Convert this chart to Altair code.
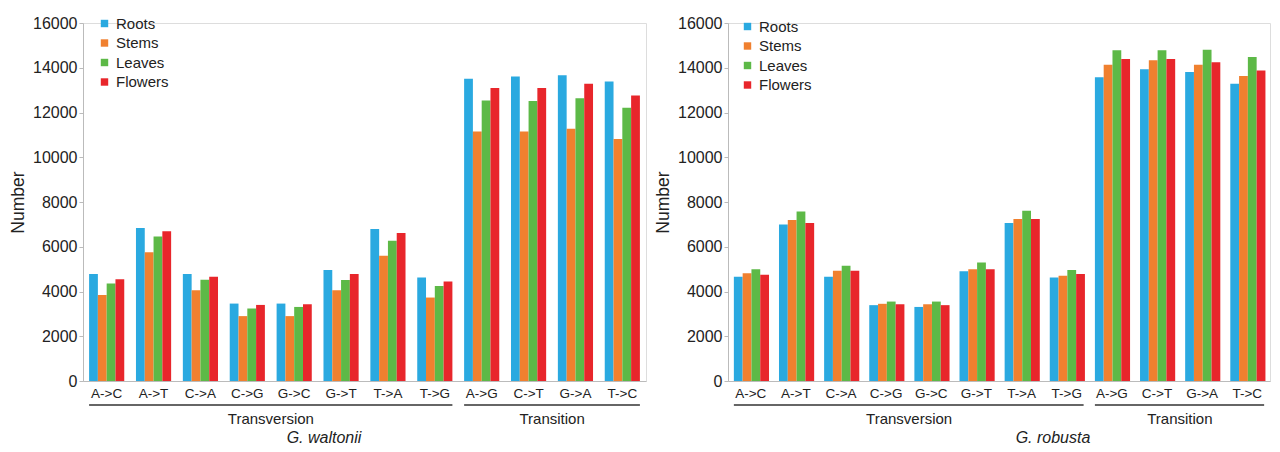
import altair as alt
import pandas as pd

categories = ["A->C", "A->T", "C->A", "C->G", "G->C", "G->T", "T->A", "T->G",
              "A->G", "C->T", "G->A", "T->C"]
tissues = ["Roots", "Stems", "Leaves", "Flowers"]
colors = ["#2aa9e0", "#f0802f", "#5db947", "#e8262b"]

# G. waltonii
w_roots = [4780, 6840, 4780, 3460, 3460, 4960, 6790, 4630, 13510, 13610, 13660, 13390]
w_stems = [3840, 5750, 4060, 2900, 2900, 4060, 5600, 3730, 11150, 11150, 11270, 10820]
w_leaves = [4360, 6460, 4520, 3240, 3310, 4510, 6270, 4250, 12540, 12510, 12640, 12210]
w_flowers = [4550, 6690, 4660, 3400, 3430, 4780, 6610, 4450, 13100, 13100, 13280, 12760]

# G. robusta
r_roots = [4660, 6990, 4660, 3390, 3310, 4900, 7060, 4630, 13580, 13930, 13810, 13280]
r_stems = [4820, 7190, 4930, 3450, 3430, 5000, 7240, 4700, 14130, 14330, 14130, 13630]
r_leaves = [5000, 7580, 5150, 3550, 3550, 5300, 7610, 4960, 14780, 14780, 14810, 14480]
r_flowers = [4750, 7060, 4930, 3430, 3390, 5000, 7240, 4780, 14390, 14390, 14250, 13880]

groups = ["Transversion", "Transition"]
group_first = ["A->C", "A->G"]
group_last = ["T->G", "T->C"]
group_mid = ["C->G", "C->T"]

y_ticks = [0, 2000, 4000, 6000, 8000, 10000, 12000, 14000, 16000]

FONT = "Liberation Sans"
H = 358


def x_axis():
    return alt.Axis(title=None, labelAngle=0, ticks=False,
                    labelFontSize=13.5, labelFont=FONT, labelColor="#222",
                    domainColor="#bbbbbb", labelPadding=5)


def panel(vals, species, width, species_x, legend_x, legend_y):
    rows = []
    for t, series in zip(tissues, vals):
        for c, v in zip(categories, series):
            rows.append({"cat": c, "tissue": t, "value": v})
    df = pd.DataFrame(rows)
    gdf = pd.DataFrame({"group": groups, "first": group_first,
                        "last": group_last, "mid": group_mid})
    sdf = pd.DataFrame({"species": [species]})

    xscale = alt.Scale(domain=categories, paddingInner=0.25, paddingOuter=0.13)

    bars = alt.Chart(df).mark_bar().encode(
        x=alt.X("cat:N", scale=xscale, sort=categories, axis=x_axis()),
        xOffset=alt.XOffset("tissue:N", sort=tissues,
                            scale=alt.Scale(domain=tissues, paddingInner=0, paddingOuter=0)),
        y=alt.Y("value:Q", scale=alt.Scale(domain=[0, 16000], nice=False),
                axis=alt.Axis(title="Number", values=y_ticks, grid=False, format="d",
                              labelFontSize=16, labelFont=FONT, labelColor="#222",
                              titleFontSize=17.5, titleFont=FONT, titleFontWeight="normal",
                              titleColor="#222", domainColor="#bbbbbb", tickColor="#bbbbbb",
                              tickSize=4, labelPadding=2, titlePadding=5)),
        color=alt.Color("tissue:N", sort=tissues,
                        scale=alt.Scale(domain=tissues, range=colors),
                        legend=alt.Legend(title=None, orient="none", legendX=legend_x,
                                          legendY=legend_y, symbolType="square",
                                          symbolSize=55, symbolStrokeWidth=0,
                                          labelFontSize=15, labelFont=FONT,
                                          labelColor="#222", rowPadding=3.5,
                                          labelOffset=4)),
    )

    rule = alt.Chart(gdf).mark_rule(color="#333333", strokeWidth=1.6).encode(
        x=alt.X("first:N", scale=xscale, bandPosition=0, axis=x_axis()),
        x2=alt.X2("last:N", bandPosition=1),
        y=alt.value(H + 24),
    )

    gtext = alt.Chart(gdf).mark_text(fontSize=15, font=FONT, color="#222", dx=6).encode(
        x=alt.X("mid:N", scale=xscale, bandPosition=1, axis=x_axis()),
        y=alt.value(H + 38),
        text="group:N",
    )

    stext = alt.Chart(sdf).mark_text(fontSize=16, font=FONT, fontStyle="italic",
                                      color="#222").encode(
        x=alt.value(species_x),
        y=alt.value(H + 57),
        text="species:N",
    )

    return alt.layer(bars, rule, gtext, stext).properties(width=width, height=H)


left = panel([w_roots, w_stems, w_leaves, w_flowers], "G. waltonii", 563, 241, 14, -7)
right = panel([r_roots, r_stems, r_leaves, r_flowers], "G. robusta", 542, 325, 12, -4)

chart = alt.hconcat(left, right, spacing=7).resolve_scale(
    color="independent"
).resolve_legend(color="independent").properties(
    padding={"top": 6, "left": 1, "right": 0, "bottom": 0}
).configure_view(stroke=None).configure(background="white")

chart.save("out.html", embed_options={"renderer": "svg", "actions": False})
